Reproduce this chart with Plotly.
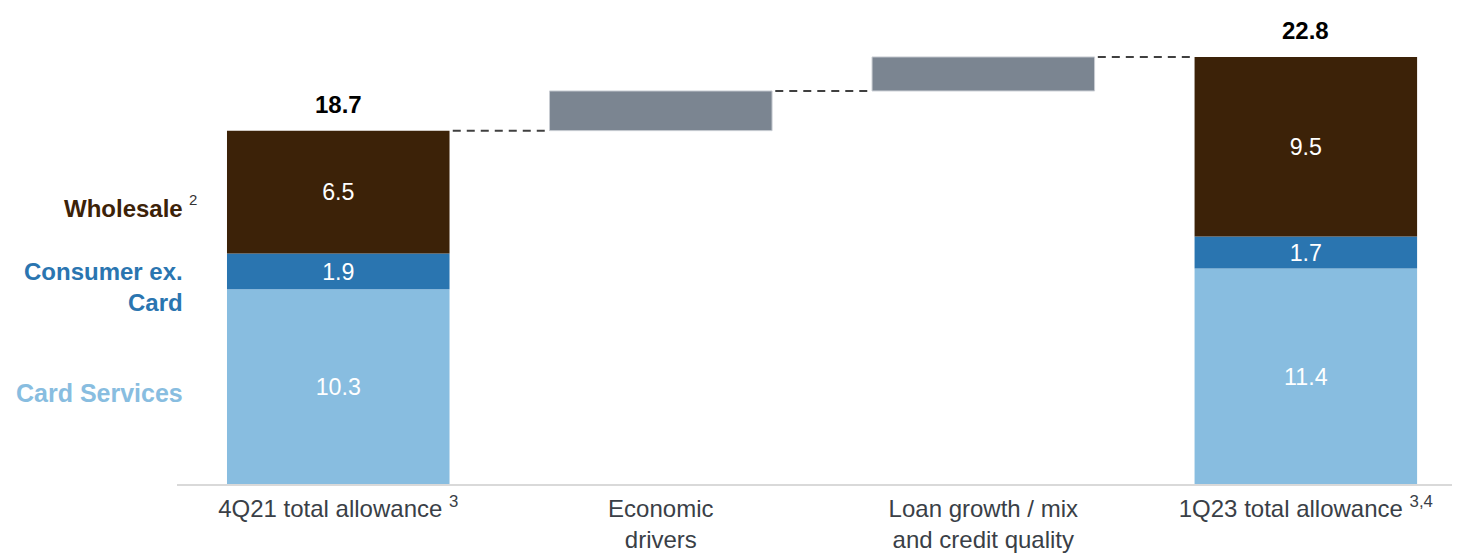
import plotly.graph_objects as go

categories = ["4Q21 total allowance <sup>3</sup>", "Economic<br>drivers",
              "Loan growth / mix<br>and credit quality", "1Q23 total allowance <sup>3,4</sup>"]
card_services = [10.3, None, None, 11.4]
consumer_ex_card = [1.9, None, None, 1.7]
wholesale = [6.5, None, None, 9.5]
totals = [18.7, None, None, 22.8]
changes = [None, 2.1, 1.8, None]

x = [0, 1, 2, 3]
BW = 0.69

C_CARD = "#88bde0"
C_CONS = "#2a75b0"
C_WHOLE = "#3c2208"
C_GRAY = "#7b8591"
FONT = "Liberation Sans, Arial, sans-serif"


def nz(v):
    return 0 if v is None else v


base_cons = [nz(a) for a in card_services]
base_whole = [nz(a) + nz(b) for a, b in zip(card_services, consumer_ex_card)]
stack_top = [nz(a) + nz(b) + nz(c) for a, b, c in zip(card_services, consumer_ex_card, wholesale)]

base_change = []
level_after = []
run = stack_top[0]
for i, v in enumerate(changes):
    if v is None:
        base_change.append(None)
        level_after.append(stack_top[i])
    else:
        base_change.append(run)
        run += v
        level_after.append(run)

fig = go.Figure()
txtfont = dict(family=FONT, size=24, color="white")

for vals, base, col in [(card_services, [0] * 4, C_CARD),
                        (consumer_ex_card, base_cons, C_CONS),
                        (wholesale, base_whole, C_WHOLE)]:
    fig.add_trace(go.Bar(x=x, y=vals, base=base, width=BW, marker_color=col,
                         text=[f"{v}" if v else "" for v in vals], textposition="inside",
                         insidetextanchor="middle", textfont=txtfont, marker_line_width=0,
                         showlegend=False, hoverinfo="skip"))

fig.add_trace(go.Bar(x=x, y=changes, base=base_change, width=BW, marker_color=C_GRAY,
                     marker_line=dict(width=1, color="#c9cdd3"),
                     showlegend=False, hoverinfo="skip"))

# total labels
for i, t in enumerate(totals):
    if t is not None:
        fig.add_annotation(x=x[i], y=stack_top[i], text=f"<b>{t}</b>", showarrow=False,
                           yanchor="bottom", yshift=11,
                           font=dict(family=FONT, size=24, color="black"))

# dashed connectors
levels = [stack_top[0], level_after[1], level_after[2]]
for i in range(3):
    fig.add_shape(type="line", xref="x", yref="y",
                  x0=x[i] + BW / 2 + 0.01, x1=x[i + 1] - BW / 2 - 0.01,
                  y0=levels[i], y1=levels[i],
                  line=dict(color="#404040", width=2, dash="8px,6px"))

# left side segment labels
fig.add_annotation(x=-0.475, y=14.6, xref="x", yref="y", text="<b>Wholesale</b>", showarrow=False,
                   xanchor="right", align="right", font=dict(family=FONT, size=24, color=C_WHOLE))
fig.add_annotation(x=-0.475, y=14.6, xref="x", yref="y", text="2", showarrow=False,
                   xanchor="left", yshift=9, xshift=2, font=dict(family=FONT, size=15, color="#333333"))
fig.add_annotation(x=-0.475, y=10.42, xref="x", yref="y", text="<b>Consumer ex.<br>Card</b>",
                   showarrow=False, xanchor="right", align="right",
                   font=dict(family=FONT, size=24, color=C_CONS))
fig.add_annotation(x=-0.475, y=4.81, xref="x", yref="y", text="<b>Card Services</b>", showarrow=False,
                   xanchor="right", align="right", font=dict(family=FONT, size=25, color=C_CARD))

fig.update_layout(
    width=1460, height=555,
    margin=dict(l=169, r=8, t=0, b=79),
    barmode="overlay",
    plot_bgcolor="white", paper_bgcolor="white",
    xaxis=dict(range=[-0.5, 3.478], tickvals=x, ticktext=categories, showgrid=False,
               zeroline=False, showline=True, linecolor="#d9d9d9", linewidth=2,
               ticks="", ticklabelstandoff=2,
               tickfont=dict(family=FONT, size=24, color="#3a3f47")),
    yaxis=dict(range=[0, 25.19], visible=False, showgrid=False, zeroline=False),
    uniformtext=dict(minsize=10, mode="show"),
)

fig.write_html("out.html")
